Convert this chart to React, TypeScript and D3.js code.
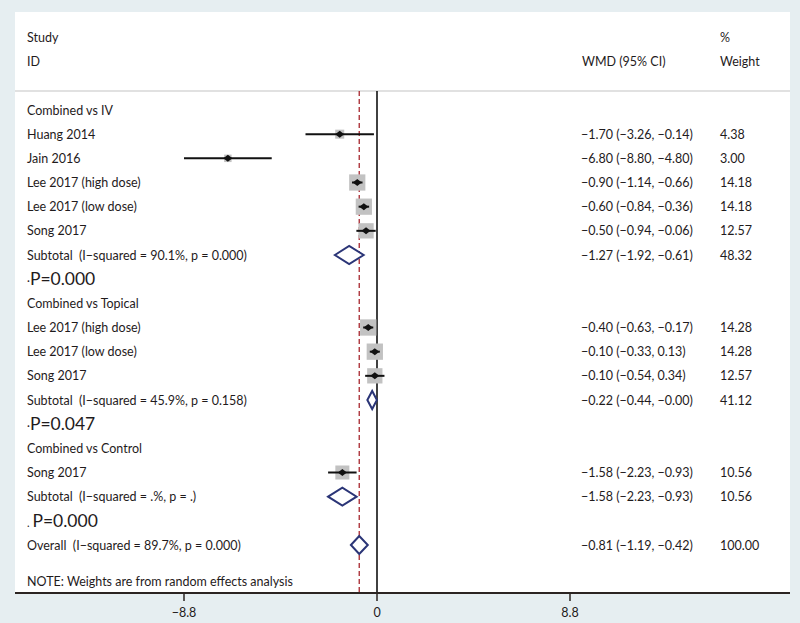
import * as d3 from 'd3';
import React, { useRef, useEffect } from 'react';

// rows of the forest plot, top to bottom
const rowLabels = [
  'Combined vs IV',
  'Huang 2014',
  'Jain 2016',
  'Lee 2017 (high dose)',
  'Lee 2017 (low dose)',
  'Song 2017',
  'Subtotal\u00a0\u00a0(I\u2212squared = 90.1%, p = 0.000)',
  'P=0.000',
  'Combined vs Topical',
  'Lee 2017 (high dose)',
  'Lee 2017 (low dose)',
  'Song 2017',
  'Subtotal\u00a0\u00a0(I\u2212squared = 45.9%, p = 0.158)',
  'P=0.047',
  'Combined vs Control',
  'Song 2017',
  'Subtotal\u00a0\u00a0(I\u2212squared = .%, p = .)',
  'P=0.000',
  'Overall\u00a0\u00a0(I\u2212squared = 89.7%, p = 0.000)',
];
// kind: h = group heading, s = study, p = pooled, t = p-value note
const rowKinds = ['h', 's', 's', 's', 's', 's', 'p', 't', 'h', 's', 's', 's', 'p', 't', 'h', 's', 'p', 't', 'p'];
const estimates = [null, -1.70, -6.80, -0.90, -0.60, -0.50, -1.27, null, null, -0.40, -0.10, -0.10, -0.22, null, null, -1.58, -1.58, null, -0.81];
const lowers = [null, -3.26, -8.80, -1.14, -0.84, -0.94, -1.92, null, null, -0.63, -0.33, -0.54, -0.44, null, null, -2.23, -2.23, null, -1.19];
const uppers = [null, -0.14, -4.80, -0.66, -0.36, -0.06, -0.61, null, null, -0.17, 0.13, 0.34, -0.004, null, null, -0.93, -0.93, null, -0.42];
const weights = [null, 4.38, 3.00, 14.18, 14.18, 12.57, 48.32, null, null, 14.28, 14.28, 12.57, 41.12, null, null, 10.56, 10.56, null, 100.00];
const pDots = ['\u00b7', '\u00b7', '.\u00a0'];

const xTicks = [-8.8, 0, 8.8];
const overallEstimate = -0.81;

const FONT = 'Lato, sans-serif';
const INK = '#1f1b1c';

const fmt = (v) => (v < 0 ? '\u2212' : '') + Math.abs(v).toFixed(2);

function ForestPlot({ width, height }) {
  const ref = useRef();

  useEffect(() => {
    const svg = d3.select(ref.current);
    svg.selectAll('*').remove();

    const panel = { left: 15, right: 790, top: 12, bottom: 593 };

    const x = d3.scaleLinear().domain([-8.8, 8.8]).range([184, 570]);
    const y = d3.scaleLinear().domain([0, rowLabels.length - 1]).range([110, 545]);
    const boxSize = d3.scaleSqrt().domain([0, 14.28]).range([0, 16.3]);

    svg.append('rect').attr('width', width).attr('height', height).attr('fill', '#e6eef1');
    svg.append('rect')
      .attr('x', panel.left).attr('y', panel.top)
      .attr('width', panel.right - panel.left).attr('height', panel.bottom - panel.top)
      .attr('fill', '#fff');

    // headers
    const head = svg.append('g').attr('font-family', FONT).attr('font-size', 12.5).attr('fill', INK);
    head.append('text').attr('x', 27).attr('y', 42).text('Study');
    head.append('text').attr('x', 27).attr('y', 66).text('ID');
    head.append('text').attr('x', 582).attr('y', 66).text('WMD (95% CI)');
    head.append('text').attr('x', 720).attr('y', 42).text('%');
    head.append('text').attr('x', 720).attr('y', 66).text('Weight');

    svg.append('line')
      .attr('x1', panel.left).attr('x2', panel.right)
      .attr('y1', 91).attr('y2', 91)
      .attr('stroke', '#c4c4c4').attr('stroke-width', 1.2);

    // reference lines
    svg.append('line')
      .attr('x1', x(0)).attr('x2', x(0)).attr('y1', 91).attr('y2', panel.bottom)
      .attr('stroke', '#111').attr('stroke-width', 1.6);
    svg.append('line')
      .attr('x1', x(overallEstimate)).attr('x2', x(overallEstimate)).attr('y1', 91).attr('y2', panel.bottom)
      .attr('stroke', '#a8272f').attr('stroke-width', 1.3).attr('stroke-dasharray', '5,3');

    const rows = rowLabels.map((label, i) => ({
      i, label, kind: rowKinds[i], est: estimates[i], lo: lowers[i], hi: uppers[i], w: weights[i],
    }));

    // labels
    const txt = svg.append('g').attr('font-family', FONT).attr('fill', INK);
    let pIdx = 0;
    rows.forEach(r => {
      if (r.kind === 't') {
        const t = txt.append('text').attr('x', 27).attr('y', y(r.i) + 6).attr('font-size', 17.5);
        t.append('tspan').attr('font-size', 11).text(pDots[pIdx++]);
        t.append('tspan').text(r.label);
        return;
      }
      txt.append('text').attr('x', 27).attr('y', y(r.i) + 4.5).attr('font-size', 12.5).text(r.label);
      if (r.est !== null) {
        txt.append('text').attr('x', 581).attr('y', y(r.i) + 4.5).attr('font-size', 12.5)
          .text(`${fmt(r.est)} (${fmt(r.lo)}, ${fmt(r.hi)})`);
        txt.append('text').attr('x', 720).attr('y', y(r.i) + 4.5).attr('font-size', 12.5)
          .text(r.w.toFixed(2));
      }
    });

    const studies = rows.filter(r => r.kind === 's');

    // weight boxes
    svg.selectAll('.box').data(studies).enter().append('rect')
      .attr('class', 'box')
      .attr('x', d => x(d.est) - boxSize(d.w) / 2)
      .attr('y', d => y(d.i) - boxSize(d.w) / 2)
      .attr('width', d => boxSize(d.w))
      .attr('height', d => boxSize(d.w))
      .attr('fill', '#c2c2c2');

    // confidence intervals
    svg.selectAll('.ci').data(studies).enter().append('line')
      .attr('class', 'ci')
      .attr('x1', d => x(d.lo)).attr('x2', d => x(d.hi))
      .attr('y1', d => y(d.i)).attr('y2', d => y(d.i))
      .attr('stroke', '#111').attr('stroke-width', 2);

    // point estimate markers
    svg.selectAll('.pt').data(studies).enter().append('path')
      .attr('class', 'pt')
      .attr('d', d => {
        const cx = x(d.est), cy = y(d.i);
        return `M${cx - 4.5},${cy}L${cx},${cy - 3.5}L${cx + 4.5},${cy}L${cx},${cy + 3.5}Z`;
      })
      .attr('fill', '#111');

    // pooled diamonds
    svg.selectAll('.pool').data(rows.filter(r => r.kind === 'p')).enter().append('path')
      .attr('class', 'pool')
      .attr('d', d => {
        const cy = y(d.i);
        return `M${x(d.lo)},${cy}L${x(d.est)},${cy - 9}L${x(d.hi)},${cy}L${x(d.est)},${cy + 9}Z`;
      })
      .attr('fill', '#fff').attr('stroke', '#2b3577').attr('stroke-width', 2)
      .attr('stroke-linejoin', 'miter');

    svg.append('text')
      .attr('x', 27).attr('y', 586)
      .attr('font-family', FONT).attr('font-size', 12.5).attr('fill', INK)
      .text('NOTE: Weights are from random effects analysis');

    // x axis
    svg.append('line')
      .attr('x1', panel.left).attr('x2', panel.right)
      .attr('y1', panel.bottom).attr('y2', panel.bottom)
      .attr('stroke', '#2b2422').attr('stroke-width', 2);
    const ax = svg.append('g').attr('font-family', FONT).attr('font-size', 12.5).attr('fill', INK);
    xTicks.forEach(t => {
      ax.append('line')
        .attr('x1', x(t)).attr('x2', x(t)).attr('y1', panel.bottom).attr('y2', panel.bottom + 8)
        .attr('stroke', '#2b2422').attr('stroke-width', 1.5);
      ax.append('text').attr('x', x(t)).attr('y', panel.bottom + 24)
        .attr('text-anchor', 'middle').text(t < 0 ? '\u2212' + Math.abs(t) : String(t));
    });
  }, []);

  return <svg ref={ref} width={width} height={height} style={{ position: 'absolute', left: 0, top: 0, display: 'block' }} />;
}

export default function App() {
  return <ForestPlot width={800} height={623} />;
}
